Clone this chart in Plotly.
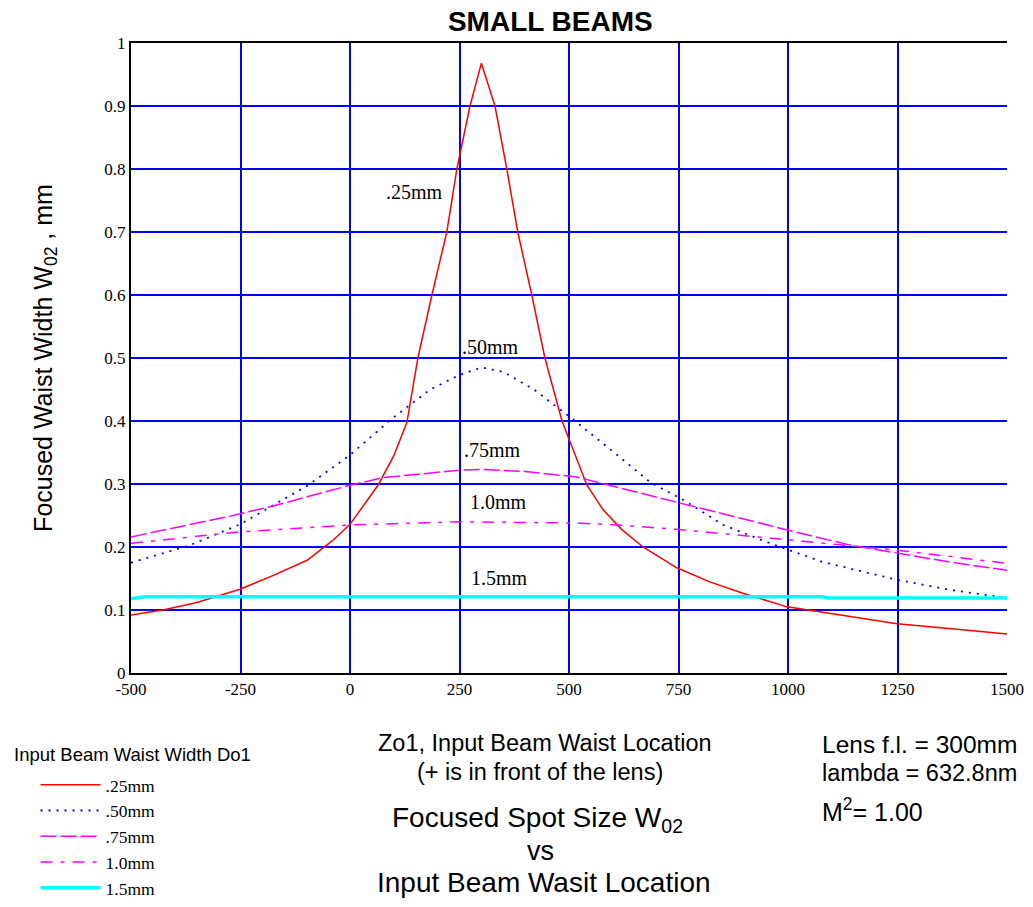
import plotly.graph_objects as go

# ---- data ----
x_025 = [-500, -427, -350, -251, -175, -98, -40, 0, 64, 100, 130, 155, 187, 221, 244, 274, 300,
         331, 358, 383, 415, 445, 484, 541, 578, 620, 669, 746, 820, 895, 998, 1100, 1249, 1380, 1500]
y_025 = [0.092, 0.100, 0.112, 0.133, 0.155, 0.179, 0.21, 0.236, 0.298, 0.345, 0.398, 0.5, 0.6, 0.7,
         0.8, 0.9, 0.968, 0.9, 0.8, 0.7, 0.6, 0.5, 0.4, 0.298, 0.259, 0.228, 0.2, 0.167, 0.145, 0.127,
         0.105, 0.094, 0.078, 0.07, 0.062]

x_050 = [-500, -365, -251, -98, 0, 98, 183, 250, 300, 350, 420, 514, 610, 685, 760, 852, 959,
         1080, 1249, 1370, 1500]
y_050 = [0.175, 0.203, 0.236, 0.297, 0.346, 0.405, 0.45, 0.473, 0.485, 0.478, 0.45, 0.40, 0.346,
         0.303, 0.275, 0.235, 0.206, 0.176, 0.148, 0.132, 0.119]

x_075 = [-500, -388, -274, -176, 0, 75, 249, 300, 400, 518, 594, 746, 890, 998, 1142, 1249, 1370, 1500]
y_075 = [0.216, 0.232, 0.249, 0.265, 0.298, 0.31, 0.322, 0.323, 0.32, 0.311, 0.298, 0.271, 0.246,
         0.227, 0.203, 0.19, 0.176, 0.163]

x_100 = [-500, -251, 0, 249, 518, 610, 746, 998, 1249, 1500]
y_100 = [0.206, 0.224, 0.235, 0.24, 0.238, 0.235, 0.228, 0.211, 0.195, 0.174]

x_150 = [-500, -470, 1080, 1090, 1500]
y_150 = [0.118, 0.121, 0.121, 0.119, 0.119]

x_ticks = [-500, -250, 0, 250, 500, 750, 1000, 1250, 1500]
y_ticks = [0, 0.1, 0.2, 0.3, 0.4, 0.5, 0.6, 0.7, 0.8, 0.9, 1]
y_ticklabels = ["0", "0.1", "0.2", "0.3", "0.4", "0.5", "0.6", "0.7", "0.8", "0.9", "1"]

curve_labels = [".25mm", ".50mm", ".75mm", "1.0mm", "1.5mm"]
label_x = [148, 320, 326, 338, 342]
label_y = [0.763, 0.517, 0.354, 0.271, 0.151]

SERIF = "Liberation Serif, Times New Roman, serif"
SANS = "Liberation Sans, Arial, sans-serif"

fig = go.Figure()
fig.add_trace(go.Scatter(x=x_025, y=y_025, mode="lines", name=".25mm",
                         line=dict(color="#FF0000", width=1.5)))
fig.add_trace(go.Scatter(x=x_050, y=y_050, mode="lines", name=".50mm",
                         line=dict(color="#0000FF", width=1.8, dash="2px,6px")))
fig.add_trace(go.Scatter(x=x_075, y=y_075, mode="lines", name=".75mm",
                         line=dict(color="#FF00FF", width=1.5, dash="16px,4px")))
fig.add_trace(go.Scatter(x=x_100, y=y_100, mode="lines", name="1.0mm",
                         line=dict(color="#FF00FF", width=1.5, dash="12px,8px,4px,8px")))
fig.add_trace(go.Scatter(x=x_150, y=y_150, mode="lines", name="1.5mm",
                         line=dict(color="#00FFFF", width=3.5)))

for t, lx, ly in zip(curve_labels, label_x, label_y):
    fig.add_annotation(x=lx, y=ly, text=t, showarrow=False,
                       font=dict(family=SERIF, size=20, color="black"))

# legend title
fig.add_annotation(xref="paper", yref="paper", x=-0.136, y=-0.130, xanchor="left", yanchor="middle",
                   text="Input Beam Waist Width Do1", showarrow=False,
                   font=dict(family=SANS, size=18.5, color="black"))

# bottom texts
fig.add_annotation(xref="paper", yref="paper", x=0.473, y=-0.111, yanchor="middle",
                   text="Zo1, Input Beam Waist Location", showarrow=False,
                   font=dict(family=SANS, size=23.5, color="black"))
fig.add_annotation(xref="paper", yref="paper", x=0.467, y=-0.157, yanchor="middle",
                   text="(+ is in front of the lens)", showarrow=False,
                   font=dict(family=SANS, size=23.5, color="black"))
fig.add_annotation(xref="paper", yref="paper", x=0.464, y=-0.233, yanchor="middle",
                   text="Focused Spot Size W<sub>02</sub>", showarrow=False,
                   font=dict(family=SANS, size=28, color="black"))
fig.add_annotation(xref="paper", yref="paper", x=0.467, y=-0.283, yanchor="middle",
                   text="vs", showarrow=False,
                   font=dict(family=SANS, size=27, color="black"))
fig.add_annotation(xref="paper", yref="paper", x=0.471, y=-0.332, yanchor="middle",
                   text="Input Beam Wasit Location", showarrow=False,
                   font=dict(family=SANS, size=28, color="black"))

fig.add_annotation(xref="paper", yref="paper", x=0.787, y=-0.114, xanchor="left", yanchor="middle",
                   text="Lens f.l. = 300mm", showarrow=False,
                   font=dict(family=SANS, size=24.5, color="black"))
fig.add_annotation(xref="paper", yref="paper", x=0.787, y=-0.159, xanchor="left", yanchor="middle",
                   text="lambda = 632.8nm", showarrow=False,
                   font=dict(family=SANS, size=23.5, color="black"))
fig.add_annotation(xref="paper", yref="paper", x=0.787, y=-0.218, xanchor="left", yanchor="middle",
                   text="M<sup>2</sup>= 1.00", showarrow=False,
                   font=dict(family=SANS, size=25, color="black"))

fig.update_layout(
    width=1033, height=907,
    margin=dict(l=123, r=34, t=35, b=242, autoexpand=False),
    paper_bgcolor="white", plot_bgcolor="white",
    title=dict(text="<b>SMALL BEAMS</b>", x=0.525, xanchor="center", y=0.996, yanchor="top",
               pad=dict(t=0, b=0), font=dict(family=SANS, size=28, color="black")),
    showlegend=True,
    legend=dict(
        x=-0.109, xanchor="left", y=-0.149, yanchor="top",
        font=dict(family=SERIF, size=17.5, color="black"),
        bgcolor="rgba(0,0,0,0)", tracegroupgap=0, itemwidth=60,
    ),
    xaxis=dict(range=[-500, 1500], tickvals=x_ticks, ticktext=[str(v) for v in x_ticks],
               showgrid=True, gridcolor="#0000FF", gridwidth=2,
               showline=True, linecolor="black", linewidth=2, mirror=True,
               zeroline=False, ticks="", automargin=False,
               tickfont=dict(family=SERIF, size=17, color="black")),
    yaxis=dict(range=[0, 1], tickvals=y_ticks, ticktext=y_ticklabels,
               showgrid=True, gridcolor="#0000FF", gridwidth=2,
               showline=True, linecolor="black", linewidth=2, mirror=False,
               zeroline=False, ticks="", automargin=False,
               tickfont=dict(family=SERIF, size=17, color="black"),
               title=dict(text="Focused Waist Width W<sub>02</sub> , mm",
                          font=dict(family=SANS, size=25, color="black"), standoff=45)),
)

fig.write_html("out.html")
